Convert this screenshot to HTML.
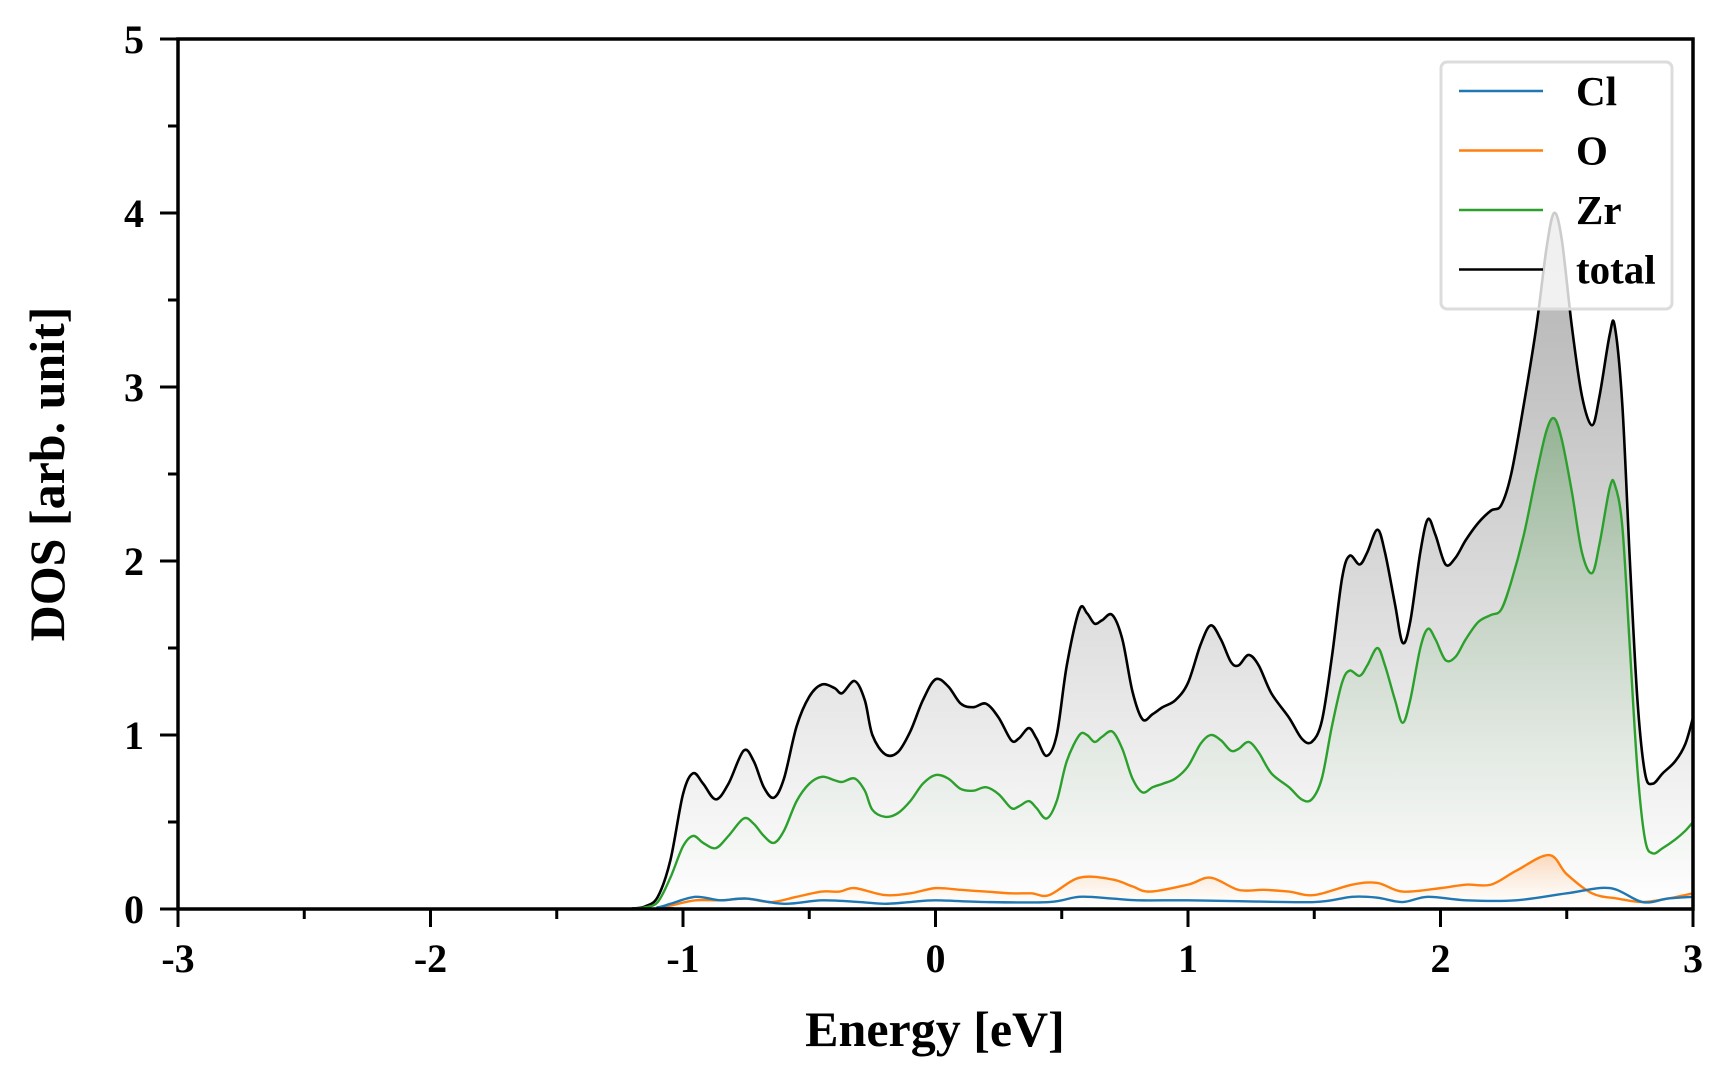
<!DOCTYPE html>
<html><head><meta charset="utf-8"><style>
html,body{margin:0;padding:0;background:#fff;width:1728px;height:1080px;overflow:hidden}
svg text{font-family:"Liberation Serif",serif;font-weight:bold;fill:#000}
</style></head><body>
<svg id="chart" width="1728" height="1080" xmlns="http://www.w3.org/2000/svg">
<defs>
<linearGradient id="gTot" gradientUnits="userSpaceOnUse" x1="0" y1="213" x2="0" y2="909"><stop offset="0" stop-color="#b0b0b0"/><stop offset="1" stop-color="#ffffff"/></linearGradient>
<linearGradient id="gZr" gradientUnits="userSpaceOnUse" x1="0" y1="400" x2="0" y2="909"><stop offset="0" stop-color="#8fb08f"/><stop offset="1" stop-color="#ffffff" stop-opacity="0.4"/></linearGradient>
<linearGradient id="gO" gradientUnits="userSpaceOnUse" x1="0" y1="850" x2="0" y2="909"><stop offset="0" stop-color="#fbd2b0"/><stop offset="1" stop-color="#ffffff" stop-opacity="0.4"/></linearGradient>
</defs>
<g id="marks"></g>
<g id="axes"></g>
</svg>
<script>
const X0=178,X1=1693,Y0=909,Y1=39;
const xMin=-3,xMax=3,yMin=0,yMax=5;
const xTicks=[-3,-2,-1,0,1,2,3];
const yTicks=[0,1,2,3,4,5];
const xEnergy=[-3,-1.25,-1.2,-1.15,-1.1,-1.05,-1.0,-0.96,-0.92,-0.87,-0.82,-0.76,-0.72,-0.68,-0.64,-0.6,-0.55,-0.5,-0.45,-0.4,-0.37,-0.32,-0.28,-0.25,-0.2,-0.15,-0.1,-0.05,0,0.05,0.1,0.15,0.2,0.25,0.3,0.33,0.37,0.4,0.44,0.48,0.52,0.57,0.6,0.63,0.66,0.7,0.74,0.78,0.82,0.86,0.9,0.95,1.0,1.05,1.09,1.13,1.17,1.2,1.24,1.28,1.33,1.4,1.45,1.49,1.53,1.57,1.61,1.64,1.68,1.71,1.75,1.78,1.82,1.85,1.88,1.92,1.95,1.98,2.02,2.06,2.1,2.15,2.2,2.24,2.28,2.33,2.38,2.42,2.45,2.48,2.52,2.56,2.6,2.63,2.67,2.69,2.72,2.75,2.78,2.81,2.84,2.88,2.93,2.97,3.0];
const totalDOS=[0,0,0.003,0.015,0.07,0.28,0.66,0.78,0.72,0.63,0.72,0.91,0.85,0.70,0.64,0.75,1.05,1.22,1.29,1.27,1.24,1.31,1.2,1.0,0.89,0.9,1.02,1.2,1.32,1.28,1.18,1.16,1.18,1.1,0.97,0.98,1.04,0.98,0.88,1.0,1.4,1.72,1.70,1.64,1.66,1.69,1.55,1.25,1.09,1.12,1.16,1.20,1.30,1.52,1.63,1.55,1.42,1.40,1.46,1.40,1.24,1.10,0.98,0.96,1.08,1.45,1.90,2.03,1.98,2.05,2.18,2.05,1.75,1.53,1.65,2.05,2.24,2.15,1.98,2.02,2.12,2.22,2.29,2.32,2.5,2.9,3.35,3.8,4.0,3.85,3.35,2.95,2.78,2.95,3.3,3.35,2.9,2.0,1.2,0.78,0.72,0.78,0.85,0.95,1.1];
const zrDOS=[0,0,0.002,0.01,0.04,0.18,0.36,0.42,0.38,0.35,0.42,0.52,0.49,0.42,0.38,0.45,0.62,0.72,0.76,0.74,0.73,0.75,0.68,0.57,0.53,0.55,0.62,0.72,0.77,0.75,0.69,0.68,0.70,0.66,0.58,0.59,0.62,0.58,0.52,0.62,0.85,1.0,1.0,0.96,0.99,1.02,0.92,0.75,0.67,0.70,0.72,0.75,0.82,0.95,1.0,0.97,0.91,0.92,0.96,0.90,0.78,0.70,0.63,0.63,0.75,1.05,1.30,1.37,1.34,1.40,1.50,1.40,1.20,1.07,1.20,1.50,1.61,1.55,1.43,1.45,1.55,1.65,1.69,1.72,1.88,2.15,2.5,2.75,2.82,2.70,2.40,2.05,1.93,2.10,2.42,2.44,2.2,1.5,0.8,0.4,0.32,0.35,0.40,0.45,0.5];
const xO=[-3,-1.2,-1.1,-1.05,-0.95,-0.85,-0.75,-0.65,-0.55,-0.45,-0.38,-0.32,-0.2,-0.1,0,0.1,0.2,0.3,0.38,0.45,0.57,0.7,0.78,0.85,1.0,1.09,1.2,1.3,1.4,1.5,1.65,1.75,1.85,2.0,2.1,2.2,2.3,2.43,2.5,2.6,2.7,2.8,2.9,3.0];
const oDOS=[0,0,0.008,0.02,0.05,0.05,0.06,0.04,0.07,0.1,0.1,0.12,0.08,0.09,0.12,0.11,0.1,0.09,0.09,0.08,0.18,0.17,0.13,0.1,0.14,0.18,0.11,0.11,0.1,0.08,0.14,0.15,0.1,0.12,0.14,0.14,0.22,0.31,0.2,0.09,0.06,0.04,0.06,0.09];
const xCl=[-3,-1.2,-1.1,-1.05,-0.95,-0.85,-0.75,-0.6,-0.45,-0.3,-0.2,-0.1,0,0.2,0.45,0.57,0.7,0.8,1.0,1.2,1.5,1.65,1.75,1.85,1.95,2.1,2.3,2.5,2.67,2.8,2.9,3.0];
const clDOS=[0,0,0.01,0.03,0.07,0.05,0.06,0.03,0.05,0.04,0.03,0.04,0.05,0.04,0.04,0.07,0.06,0.05,0.05,0.045,0.04,0.07,0.065,0.04,0.07,0.05,0.05,0.09,0.12,0.04,0.06,0.07];
const sx=v=>X0+(v-xMin)/(xMax-xMin)*(X1-X0);
const sy=v=>Y0-(v-yMin)/(yMax-yMin)*(Y0-Y1);
const NS="http://www.w3.org/2000/svg";
function mk(tag,attrs,parent){const e=document.createElementNS(NS,tag);for(const k in attrs)e.setAttribute(k,attrs[k]);parent.appendChild(e);return e;}
function pathD(xs,ys){const p=xs.map((x,i)=>[sx(x),sy(ys[i])]);let d="M"+p[0][0]+","+p[0][1];
for(let i=0;i<p.length-1;i++){const a=p[Math.max(i-1,0)],b=p[i],c=p[i+1],e=p[Math.min(i+2,p.length-1)];
const c1=[b[0]+(c[0]-a[0])/6,b[1]+(c[1]-a[1])/6],c2=[c[0]-(e[0]-b[0])/6,c[1]-(e[1]-b[1])/6];
c1[1]=Math.min(c1[1],Y0);c2[1]=Math.min(c2[1],Y0);
d+=" C"+c1[0]+","+c1[1]+" "+c2[0]+","+c2[1]+" "+c[0]+","+c[1];}return d;}
const marks=document.getElementById('marks'),axes=document.getElementById('axes');
function series(xs,ys,color,fill,name,w){
 const d=pathD(xs,ys);
 if(fill){const f=mk('path',{d:d+" L"+sx(xs[xs.length-1])+","+Y0+" L"+sx(xs[0])+","+Y0+" Z",fill:fill,stroke:'none'},marks);
 
 }
 const l=mk('path',{d:d,fill:'none',stroke:color,'stroke-width':w},marks);
 
 
}
series(xEnergy,totalDOS,'#000','url(#gTot)','total',2.6);
series(xEnergy,zrDOS,'#2ca02c','url(#gZr)','zr',2.4);
series(xO,oDOS,'#ff7f0e','url(#gO)','o',2.4);
series(xCl,clDOS,'#1f77b4',null,'cl',2.4);
const sp=mk('path',{d:`M${X0},${Y1} H${X1} V${Y0} H${X0} Z`,fill:'none',stroke:'#000','stroke-width':3.5},axes);


for(let v=xMin;v<=xMax+1e-9;v+=0.5){const maj=Math.abs(v-Math.round(v))<1e-9;
 const t=mk('line',{x1:sx(v),x2:sx(v),y1:Y0,y2:Y0+(maj?18:10),stroke:'#000','stroke-width':3},axes);
 
 }
xTicks.forEach(v=>{const t=mk('text',{x:sx(v),y:972,'text-anchor':'middle','font-size':40},axes);t.textContent=String(v);
 
 });
for(let v=yMin;v<=yMax+1e-9;v+=0.5){const maj=Math.abs(v-Math.round(v))<1e-9;
 const t=mk('line',{x1:X0-(maj?18:10),x2:X0,y1:sy(v),y2:sy(v),stroke:'#000','stroke-width':3},axes);
 
 }
yTicks.forEach(v=>{const t=mk('text',{x:144,y:sy(v)+14,'text-anchor':'end','font-size':40},axes);t.textContent=String(v);
 
 });
const xt=mk('text',{x:935,y:1046,'text-anchor':'middle','font-size':50},axes);xt.textContent='Energy [eV]';


const yt=mk('text',{x:0,y:0,'text-anchor':'middle','font-size':50,transform:'translate(64,474) rotate(-90)'},axes);yt.textContent='DOS [arb. unit]';


const lg=mk('g',{},axes);


mk('rect',{x:1441,y:62,width:231,height:247,rx:6,fill:'rgba(255,255,255,0.8)',stroke:'#dcdcdc','stroke-width':3},lg);
const leg=[['Cl','#1f77b4'],['O','#ff7f0e'],['Zr','#2ca02c'],['total','#000']];
leg.forEach((e,i)=>{const y=91+i*59.5;
 const g=mk('g',{},lg);
 
 
 mk('line',{x1:1459,x2:1543,y1:y,y2:y,stroke:e[1],'stroke-width':2.4},g);
 const t=mk('text',{x:1576,y:y+14,'font-size':41},g);t.textContent=e[0];});
</script>
</body></html>
